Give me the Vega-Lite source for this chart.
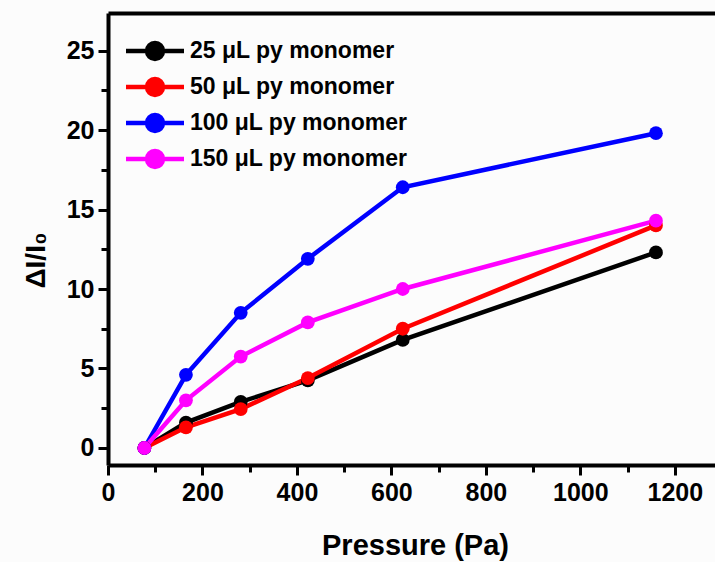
{
  "$schema": "https://vega.github.io/schema/vega-lite/v6.json",
  "width": 607,
  "height": 452,
  "autosize": {"type": "none"},
  "padding": {"left": 108, "top": 13, "right": 0, "bottom": 97},
  "background": "#fcfcfc",
  "config": {
    "view": {"stroke": null},
    "font": "Liberation Sans",
    "axis": {"grid": false, "domainColor": "black", "tickColor": "black", "labelColor": "black", "titleColor": "black",
             "labelFont": "Liberation Sans", "labelFontWeight": "bold", "titleFont": "Liberation Sans", "titleFontWeight": "bold"}
  },
  "data": {"values": [
    {"p": 77, "v": 0, "s": "25 μL py monomer"},
    {"p": 165, "v": 1.6, "s": "25 μL py monomer"},
    {"p": 281, "v": 2.9, "s": "25 μL py monomer"},
    {"p": 423, "v": 4.25, "s": "25 μL py monomer"},
    {"p": 624, "v": 6.8, "s": "25 μL py monomer"},
    {"p": 1160, "v": 12.3, "s": "25 μL py monomer"},
    {"p": 77, "v": 0, "s": "50 μL py monomer"},
    {"p": 165, "v": 1.3, "s": "50 μL py monomer"},
    {"p": 281, "v": 2.45, "s": "50 μL py monomer"},
    {"p": 423, "v": 4.4, "s": "50 μL py monomer"},
    {"p": 624, "v": 7.5, "s": "50 μL py monomer"},
    {"p": 1160, "v": 14.0, "s": "50 μL py monomer"},
    {"p": 77, "v": 0, "s": "100 μL py monomer"},
    {"p": 165, "v": 4.6, "s": "100 μL py monomer"},
    {"p": 281, "v": 8.5, "s": "100 μL py monomer"},
    {"p": 423, "v": 11.9, "s": "100 μL py monomer"},
    {"p": 624, "v": 16.4, "s": "100 μL py monomer"},
    {"p": 1160, "v": 19.8, "s": "100 μL py monomer"},
    {"p": 77, "v": 0, "s": "150 μL py monomer"},
    {"p": 165, "v": 3.0, "s": "150 μL py monomer"},
    {"p": 281, "v": 5.75, "s": "150 μL py monomer"},
    {"p": 423, "v": 7.9, "s": "150 μL py monomer"},
    {"p": 624, "v": 10.0, "s": "150 μL py monomer"},
    {"p": 1160, "v": 14.3, "s": "150 μL py monomer"}
  ]},
  "layer": [
    {
      "mark": {"type": "line", "strokeWidth": 4.5},
      "encoding": {
        "x": {"field": "p", "type": "quantitative", "scale": {"domain": [0, 1285], "nice": false, "zero": false},
          "axis": {"orient": "bottom", "values": [0,100,200,300,400,500,600,700,800,900,1000,1100,1200], "format": "d",
            "labelExpr": "datum.value % 200 === 0 ? datum.label : ''", "labelOverlap": false, "labelFlush": false,
            "domainWidth": 4, "tickWidth": 3, "tickColor": "black", "tickOpacity": 1,
            "tickSize": {"condition": {"test": "datum.value % 200 === 0", "value": 10}, "value": 7},
            "labelFontSize": 25, "labelPadding": 5,
            "title": "Pressure (Pa)", "titleFontSize": 29, "titleY": 89, "titleBaseline": "alphabetic", "titleX": 307}},
        "y": {"field": "v", "type": "quantitative", "scale": {"domain": [-1.07, 27.36], "nice": false, "zero": false},
          "axis": {"orient": "left", "values": [0,2.5,5,7.5,10,12.5,15,17.5,20,22.5,25],
            "labelExpr": "datum.value % 5 === 0 ? datum.label : ''", "labelOverlap": false, "labelFlush": false,
            "domainWidth": 4, "tickWidth": 3, "tickColor": "black", "tickOpacity": 1,
            "tickSize": {"condition": {"test": "datum.value % 5 === 0", "value": 10}, "value": 7},
            "labelFontSize": 25, "labelPadding": 4,
            "title": "ΔI/I₀", "titleFontSize": 28, "titleX": -64, "titleY": 247, "titleBaseline": "alphabetic", "titleAngle": -90}},
        "color": {"field": "s", "type": "nominal",
          "scale": {"domain": ["25 μL py monomer", "50 μL py monomer", "100 μL py monomer", "150 μL py monomer"],
                    "range": ["#000000", "#ff0000", "#0000ff", "#ff00ff"]},
          "legend": {"title": null, "orient": "none", "legendX": 30, "legendY": 21, "padding": 0,
            "symbolType": "M-2,0L2,0M0.55,0A0.55,0.55,0,1,1,-0.55,0A0.55,0.55,0,1,1,0.55,0",
            "symbolSize": 841, "symbolStrokeWidth": 4.5, "labelOffset": 18, "rowPadding": 2,
            "labelFont": "Liberation Sans", "labelFontWeight": "bold", "labelFontSize": 23, "labelColor": "black", "labelLimit": 400,
            "encode": {"symbols": {"update": {
              "fill": {"scale": "color", "field": "value"},
              "stroke": {"scale": "color", "field": "value"},
              "strokeWidth": {"value": 4.5},
              "opacity": {"value": 1}}}}}}
      }
    },
    {
      "mark": {"type": "point", "filled": true, "size": 190, "opacity": 1},
      "encoding": {
        "x": {"field": "p", "type": "quantitative",
          "axis": {"orient": "top", "domainWidth": 4, "ticks": false, "labels": false, "title": null, "values": []}},
        "y": {"field": "v", "type": "quantitative", "axis": null},
        "color": {"field": "s", "type": "nominal"}
      }
    }
  ],
  "resolve": {"axis": {"x": "independent", "y": "independent"}}
}
